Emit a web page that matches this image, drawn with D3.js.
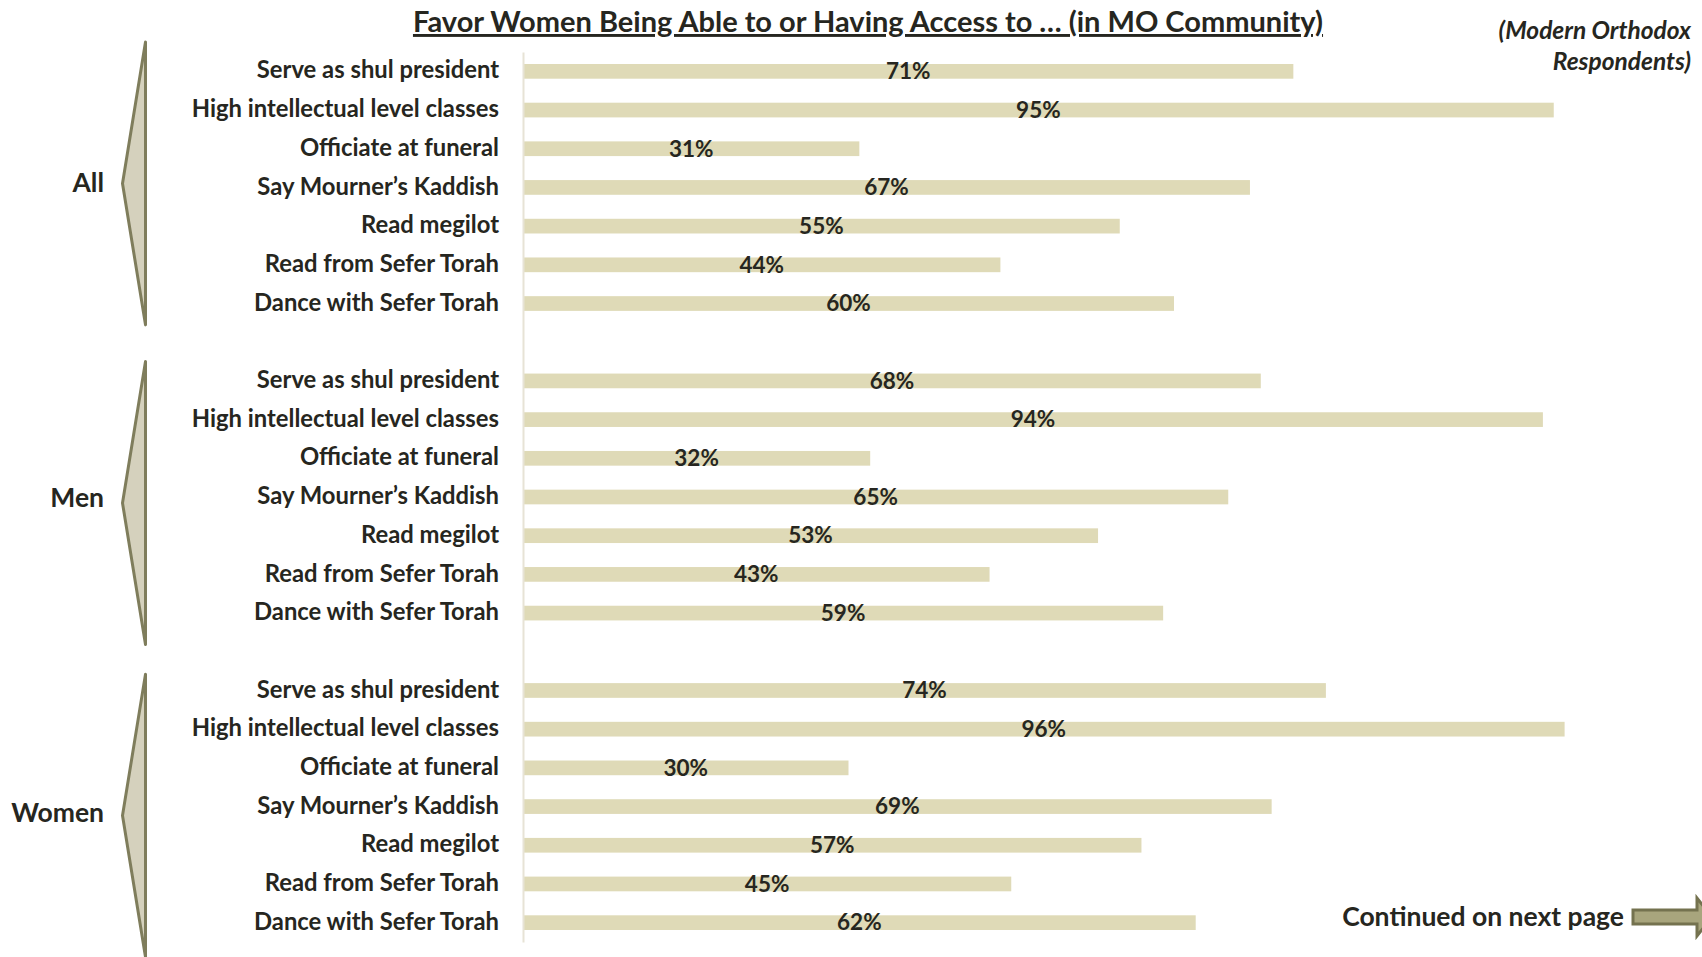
<!DOCTYPE html>
<html><head><meta charset="utf-8">
<script src="https://cdn.jsdelivr.net/npm/d3@7"></script>
<style>
html,body{margin:0;padding:0;background:#fff;}
svg text{font-family:Lato,"Open Sans",sans-serif;fill:#262620;}
</style></head>
<body>
<svg id="chart" width="1702" height="957"></svg>
<script>
const groups = ["All", "Men", "Women"];
const categories = ["Serve as shul president","High intellectual level classes","Officiate at funeral","Say Mourner\u2019s Kaddish","Read megilot","Read from Sefer Torah","Dance with Sefer Torah"];
const allValues = [71, 95, 31, 67, 55, 44, 60];
const menValues = [68, 94, 32, 65, 53, 43, 59];
const womenValues = [74, 96, 30, 69, 57, 45, 62];
const seriesValues = [allValues, menValues, womenValues];
const title = "Favor Women Being Able to or Having Access to \u2026 (in MO Community)";
const noteLines = ["(Modern Orthodox", "Respondents)"];
const footer = "Continued on next page";

const svg = d3.select("#chart");

// row keys, with a blank spacer between groups
const rows = [];
groups.forEach((g, gi) => {
  categories.forEach(c => rows.push(g + "|" + c));
  if (gi < groups.length - 1) rows.push("spacer" + gi);
});
const data = [];
groups.forEach((g, gi) => categories.forEach((c, ci) => data.push({group: g, cat: c, key: g + "|" + c, value: seriesValues[gi][ci]})));

const x = d3.scaleLinear().domain([0, 100]).range([523, 1608]);
const y = d3.scaleBand().domain(rows).range([52, 942]).paddingInner(0.62).paddingOuter(0.31);

// bars
svg.append("g").selectAll("rect").data(data).join("rect")
  .attr("x", x(0)).attr("y", d => y(d.key))
  .attr("width", d => x(d.value) - x(0)).attr("height", y.bandwidth())
  .attr("fill", "#dfdab7");

// axis
const axis = svg.append("g").attr("transform", `translate(${x(0)},0)`)
  .call(d3.axisLeft(y).tickSize(0).tickSizeOuter(0).tickPadding(24)
    .tickFormat(k => k.startsWith("spacer") ? "" : k.split("|")[1]));
axis.select(".domain").attr("stroke", "#e7e3d6").attr("stroke-width", 2);
axis.selectAll("text").style("font-size", "23.8px").style("font-weight", "700").attr("fill", "#262620").attr("dy", "0.3em");

// value labels
svg.append("g").selectAll("text").data(data).join("text")
  .attr("x", d => (x(0) + x(d.value)) / 2)
  .attr("y", d => y(d.key) + y.bandwidth() / 2 + 2)
  .attr("text-anchor", "middle").attr("dominant-baseline", "middle")
  .style("font-size", "22.5px").style("font-weight", "700")
  .text(d => d.value + "%");

// group brackets & labels
const step = y.step();
const bracketShift = [-4, 6, 9];
const labelShift = [-5, 0, 5];
groups.forEach((g, gi) => {
  const c0 = y(g + "|" + categories[0]) + y.bandwidth() / 2;
  const c1 = y(g + "|" + categories[categories.length - 1]) + y.bandwidth() / 2;
  const top = c0 - 0.5 * step - 6 + bracketShift[gi];
  const bot = c1 + 0.5 * step + 6 + bracketShift[gi];
  const mid = (top + bot) / 2;
  const xv = 145.5, xp = 122.5;
  svg.append("path")
    .attr("d", `M${xv},${top} L${xp},${mid} L${xv},${bot} Z`)
    .attr("fill", "#d5d1bd").attr("stroke", "#7f7d5c").attr("stroke-width", 3).attr("stroke-linejoin", "round");
  svg.append("text").attr("x", 104).attr("y", (c0 + c1) / 2 + labelShift[gi]).attr("text-anchor", "end")
    .attr("dominant-baseline", "central")
    .style("font-size", "26.5px").style("font-weight", "700").text(g);
});

// title
svg.append("text").attr("x", 868).attr("y", 32).attr("text-anchor", "middle")
  .style("font-size", "29px").style("font-weight", "700").style("text-decoration", "underline").text(title);

// note
noteLines.forEach((s, i) => svg.append("text").attr("x", 1691).attr("y", 39 + i * 31)
  .attr("text-anchor", "end").style("font-size", "24.5px").style("font-weight", "700").style("font-style", "italic").text(s));

// footer + arrow
svg.append("text").attr("x", 1624).attr("y", 926).attr("text-anchor", "end")
  .style("font-size", "26.5px").style("font-weight", "700").text(footer);
svg.append("path")
  .attr("d", "M1633,910 L1697,910 L1697,898 L1712,917 L1697,936 L1697,924 L1633,924 Z")
  .attr("fill", "#a8a57d").attr("stroke", "#74724f").attr("stroke-width", 3);
</script>
</body></html>
